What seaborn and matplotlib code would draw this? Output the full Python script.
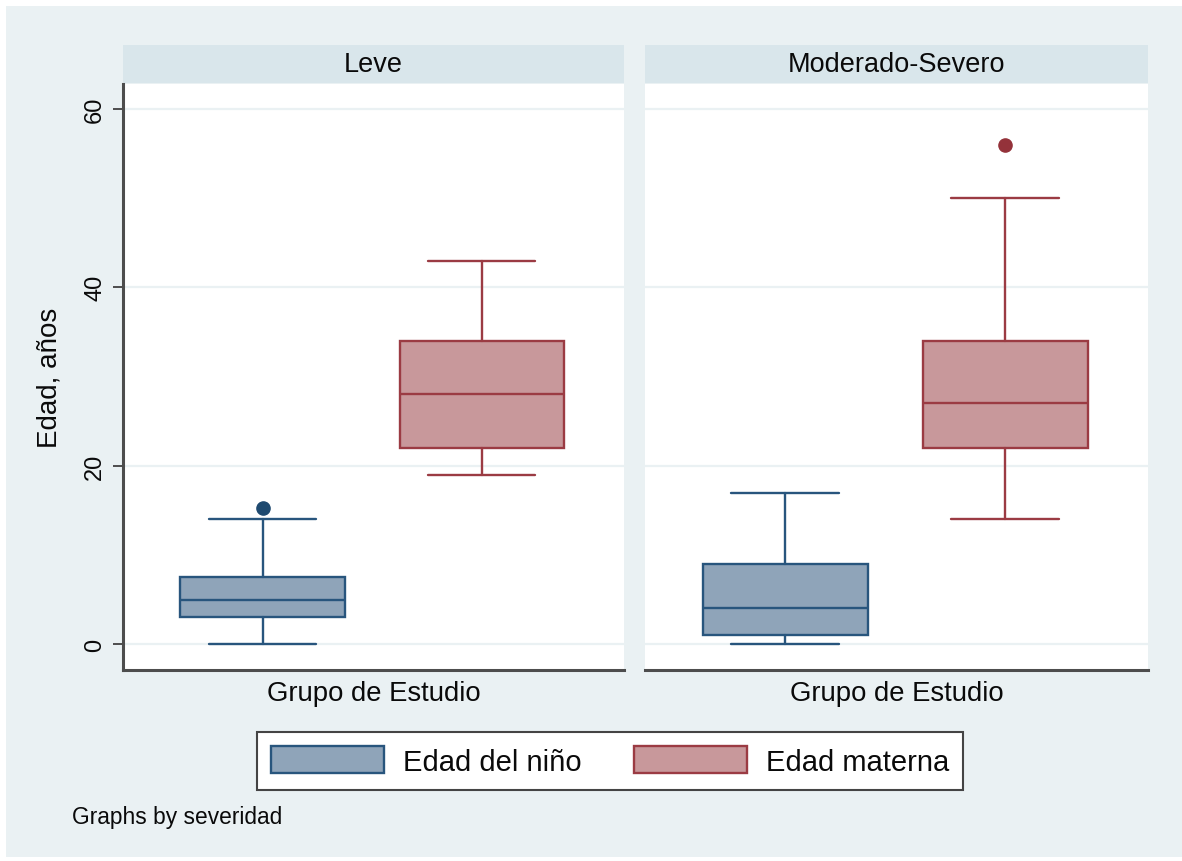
import matplotlib
matplotlib.use("Agg")
import matplotlib.pyplot as plt
from matplotlib.patches import Rectangle, Patch
import pandas as pd
import seaborn as sns

# ---- summary statistics per severity group (years) ----
severidad = ["Leve", "Moderado-Severo"]
series = ["Edad del niño", "Edad materna"]

nino_whislo = [0, 0]
nino_q1 = [3, 1]
nino_med = [5, 4]
nino_q3 = [7.5, 9]
nino_whishi = [14, 17]
nino_fliers = [[15.25], []]

materna_whislo = [19, 14]
materna_q1 = [22, 22]
materna_med = [28, 27]
materna_q3 = [34, 34]
materna_whishi = [43, 50]
materna_fliers = [[], [56]]

y_ticks = [0, 20, 40, 60]
x_label = "Grupo de Estudio"
y_label = "Edad, años"
note = "Graphs by severidad"

# ---- styling ----
fill_colors = {"Edad del niño": "#8FA4B9", "Edad materna": "#C8989B"}
edge_colors = {"Edad del niño": "#28557D", "Edad materna": "#9B3B43"}
dot_colors = {"Edad del niño": "#1F4A70", "Edad materna": "#94323A"}
positions = {"Edad del niño": -0.2, "Edad materna": 0.2}
outer_bg = "#EAF1F3"
strip_bg = "#D9E6EB"
grid_col = "#EAF1F3"
spine_col = "#4D4D4D"
ink = "#0A0A0A"

sns.set_theme(style="white")
plt.rcParams["font.family"] = ["Liberation Sans", "DejaVu Sans"]
plt.rcParams["text.color"] = ink
plt.rcParams["axes.labelcolor"] = ink
plt.rcParams["xtick.color"] = ink
plt.rcParams["ytick.color"] = ink

rows = []
for i, sev in enumerate(severidad):
    rows.append(dict(severidad=sev, serie=series[0], whislo=nino_whislo[i], q1=nino_q1[i],
                     med=nino_med[i], q3=nino_q3[i], whishi=nino_whishi[i], fliers=nino_fliers[i]))
    rows.append(dict(severidad=sev, serie=series[1], whislo=materna_whislo[i], q1=materna_q1[i],
                     med=materna_med[i], q3=materna_q3[i], whishi=materna_whishi[i], fliers=materna_fliers[i]))
stats = pd.DataFrame(rows)


def draw_boxes(data, **kws):
    ax = plt.gca()
    for _, r in data.iterrows():
        s = r["serie"]
        st = [dict(whislo=r["whislo"], q1=r["q1"], med=r["med"], q3=r["q3"],
                   whishi=r["whishi"], fliers=list(r["fliers"]), label=s)]
        lw = 1.7
        ax.bxp(st, positions=[positions[s]], widths=0.3, capwidths=0.196,
               patch_artist=True, showfliers=True, manage_ticks=False,
               boxprops=dict(facecolor=fill_colors[s], edgecolor=edge_colors[s], linewidth=lw),
               medianprops=dict(color=edge_colors[s], linewidth=lw),
               whiskerprops=dict(color=edge_colors[s], linewidth=lw),
               capprops=dict(color=edge_colors[s], linewidth=lw),
               flierprops=dict(marker="o", markersize=9.5, markerfacecolor=dot_colors[s],
                               markeredgecolor=dot_colors[s]))


g = sns.FacetGrid(stats, col="severidad", col_order=severidad, sharey=True, height=5, aspect=1)
g.map_dataframe(draw_boxes)

fig = g.figure
fig.set_size_inches(11.82, 8.62)
fig.set_dpi(100)
fig.patch.set_facecolor("white")
fig.patches.append(Rectangle((6 / 1182, 4 / 862), 1 - 6 / 1182, 1 - 11 / 862, transform=fig.transFigure,
                             facecolor=outer_bg, edgecolor="none", zorder=-10))

W, H = 1182, 862
boxes = [(123, 624), (645, 1148)]
top, bottom = 85, 671
for ax, sev, (x0, x1) in zip(g.axes.flat, severidad, boxes):
    ax.set_position([x0 / W, 1 - bottom / H, (x1 - x0) / W, (bottom - top) / H])
    ax.set_facecolor("white")
    ax.set_xlim(-0.455, 0.46)
    ax.set_ylim(-2.9, 62.8)
    ax.set_yticks(y_ticks)
    ax.set_xticks([])
    ax.set_title("")
    ax.set_axisbelow(True)
    ax.yaxis.grid(True, color=grid_col, linewidth=1.6)
    for side in ["top", "right", "left"]:
        ax.spines[side].set_visible(False)
    ax.spines["bottom"].set_visible(True)
    ax.spines["bottom"].set_color(spine_col)
    ax.spines["bottom"].set_linewidth(2.2)
    ax.set_xlabel(x_label, fontsize=19.8, labelpad=7, color=ink)
    ax.set_ylabel("")
    # strip header
    ax.add_patch(Rectangle((0, 1.002), 1, 0.064, transform=ax.transAxes, facecolor=strip_bg,
                           edgecolor="none", clip_on=False))
    ax.text(0.5, 1.034, sev, transform=ax.transAxes, ha="center", va="center", fontsize=19.5,
            color=ink)

axl, axr = g.axes.flat
axl.spines["left"].set_visible(True)
axl.spines["left"].set_color(spine_col)
axl.spines["left"].set_linewidth(2.2)
axl.tick_params(axis="y", left=True, length=7.2, width=1.4, color=spine_col, labelcolor=ink,
                pad=5, labelsize=17, labelrotation=90, labelleft=True)
for lab in axl.get_yticklabels():
    lab.set_va("center")
axl.set_ylabel(y_label, fontsize=20, color=ink)
axl.yaxis.label.set_va("center")
axl.yaxis.set_label_coords(-0.146, 0.5)
axr.tick_params(axis="y", left=False, labelleft=False)

handles = [Patch(facecolor=fill_colors[s], edgecolor=edge_colors[s], linewidth=1.7) for s in series]
leg = fig.legend(handles, series, ncol=2, loc="center", bbox_to_anchor=(610 / W, 1 - 762 / H),
                 frameon=True, fancybox=False, edgecolor="#444444", framealpha=1, facecolor="white",
                 fontsize=21, handlelength=3.87, handleheight=1.06, handletextpad=0.65,
                 columnspacing=1.8, borderpad=0.48, labelcolor=ink)
leg.get_frame().set_linewidth(1.5)

fig.text(72 / W, 1 - 818 / H, note, ha="left", va="center", fontsize=16.4, color=ink)

fig.savefig("out.png", dpi=100)
